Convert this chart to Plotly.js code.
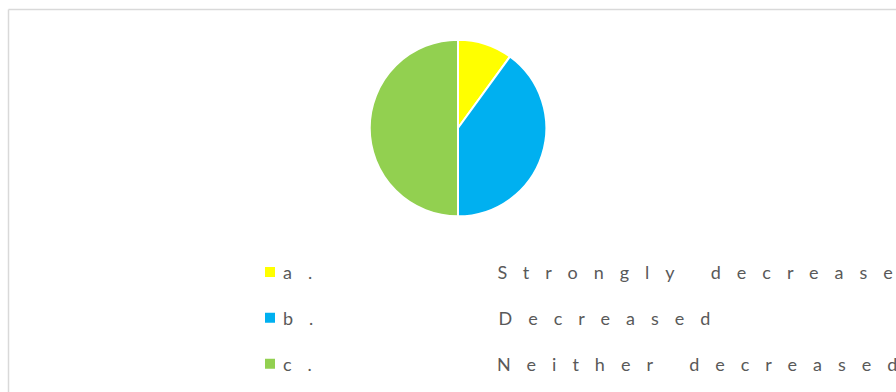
<!DOCTYPE html>
<html>
<head>
<meta charset="utf-8">
<script src="https://cdn.plot.ly/plotly-3.0.1.min.js"></script>
<style>
html, body { margin: 0; padding: 0; background: #fff; }
#chart { width: 896px; height: 392px; }
.legend .legendtext { letter-spacing: 16px; font-size: 18px !important; transform: translate(-7px, -6px); }
.legend .scrollbox, .legend g { clip-path: none !important; }
</style>
</head>
<body>
<div id="chart"></div>
<script>
var gap = '\u00a0'.repeat(7) + '\u2002';
var prefixes = ['a.', 'b.', 'c.'];
var categories = ['Strongly decreased', 'Decreased', 'Neither decreased nor increased'];
var values = [10, 40, 50];
var colors = ['#FFFF00', '#00B0F0', '#92D050'];

var labels = categories.map(function (c, i) { return prefixes[i] + gap + c; });

var W = 896, H = 392;
var trace = {
  type: 'pie',
  labels: labels,
  values: values,
  sort: false,
  direction: 'clockwise',
  rotation: 0,
  textinfo: 'none',
  hoverinfo: 'label+percent',
  marker: { colors: colors, line: { color: '#FFFFFF', width: 2 } },
  domain: { x: [369 / W, 547 / W], y: [1 - 218 / H, 1 - 40 / H] }
};

var layout = {
  width: W, height: H,
  margin: { l: 0, r: 0, t: 0, b: 0 },
  paper_bgcolor: '#FFFFFF',
  showlegend: true,
  legend: {
    x: 250 / W, y: 1 - 246 / H, xanchor: 'left', yanchor: 'top',
    font: { family: 'Lato, "Open Sans", sans-serif', size: 33, color: '#595959' },
    bgcolor: 'rgba(0,0,0,0)', borderwidth: 0, traceorder: 'normal'
  },
  shapes: [
    { type: 'line', xref: 'paper', yref: 'paper', x0: 8.5 / W, x1: 1.05, y0: 1 - 9.5 / H, y1: 1 - 9.5 / H, line: { color: '#D9D9D9', width: 1.5 } },
    { type: 'line', xref: 'paper', yref: 'paper', x0: 8.5 / W, x1: 8.5 / W, y0: 1 - 9.5 / H, y1: -0.05, line: { color: '#D9D9D9', width: 1.5 } }
  ]
};

Plotly.newPlot('chart', [trace], layout, { displayModeBar: false, staticPlot: true });
</script>
</body>
</html>
